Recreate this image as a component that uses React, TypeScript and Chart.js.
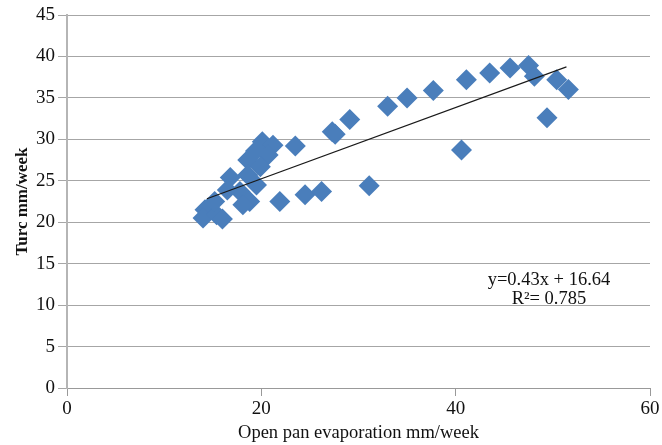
import React, { useEffect, useRef } from "react";
import { Chart, registerables } from "chart.js";

Chart.register(...registerables);

// Open pan evaporation (mm/week)
const evapX = [
  20.1, 21.2, 18.6, 20.7, 19.9, 16.8, 18.6, 19.5, 17.8, 16.5, 18.8, 18.1, 14.2, 14.0, 15.4, 16.0, 15.2, 19.4,
  23.5, 21.9, 24.5, 26.2, 31.1, 27.3, 27.6, 29.1, 33.0, 35.0, 37.7, 41.1, 43.5, 45.6, 47.5, 48.1, 50.4, 51.6,
  49.4, 40.6,
];
// Turc (mm/week)
const turcY = [
  29.7, 29.3, 27.5, 28.1, 26.7, 25.4, 25.7, 24.5, 23.7, 23.9, 22.5, 22.1, 21.5, 20.5, 20.9, 20.4, 22.5, 28.6,
  29.2, 22.5, 23.3, 23.7, 24.4, 30.9, 30.6, 32.4, 34.0, 35.0, 35.9, 37.2, 38.0, 38.6, 38.9, 37.6, 37.2, 36.0,
  32.6, 28.7,
];

const trendSlope = 0.43;
const trendIntercept = 16.64;
const trendXRange = [14.4, 51.4];
const equationLabel = "y=0.43x + 16.64";
const r2Label = "R\u00B2= 0.785";
const labelAnchor = [49.6, 11.8];

const xMin = 0, xMax = 60, xStep = 20;
const yMin = 0, yMax = 45, yStep = 5;
const xTitle = "Open pan evaporation mm/week";
const yTitle = "Turc mm/week";

const FONT = "'Liberation Serif', 'Times New Roman', serif";

const equationPlugin = {
  id: "equationText",
  afterDatasetsDraw(chart: any) {
    const { ctx, scales } = chart;
    const px = scales.x.getPixelForValue(labelAnchor[0]);
    const py = scales.y.getPixelForValue(labelAnchor[1]);
    ctx.save();
    ctx.font = `18.5px ${FONT}`;
    ctx.fillStyle = "#111";
    ctx.textAlign = "center";
    ctx.textBaseline = "middle";
    ctx.fillText(equationLabel, px, py - 10);
    ctx.fillText(r2Label, px, py + 9);
    ctx.restore();
  },
};

export default function App() {
  const ref = useRef<HTMLCanvasElement>(null);

  useEffect(() => {
    if (!ref.current) return;
    const points = evapX.map((x, i) => ({ x, y: turcY[i] }));
    const trend = trendXRange.map((x) => ({ x, y: trendSlope * x + trendIntercept }));
    const chart = new Chart(ref.current, {
      type: "scatter",
      data: {
        datasets: [
          {
            type: "line",
            data: trend,
            borderColor: "#1a1a1a",
            borderWidth: 1.2,
            pointRadius: 0,
            fill: false,
          } as any,
          {
            data: points,
            pointStyle: "rectRot",
            pointRadius: 10.5,
            pointBackgroundColor: "#4a7ebb",
            pointBorderWidth: 0,
            backgroundColor: "#4a7ebb",
            borderColor: "#4a7ebb",
          },
        ],
      },
      options: {
        responsive: false,
        animation: false,
        layout: { padding: { top: 15, right: 12, bottom: 0, left: 0 } },
        plugins: { legend: { display: false }, tooltip: { enabled: false } },
        scales: {
          x: {
            type: "linear",
            min: xMin,
            max: xMax,
            afterFit: (s: any) => {
              s.height = 57;
            },
            ticks: { stepSize: xStep, color: "#111", font: { family: FONT, size: 19 }, padding: 2, maxRotation: 0 },
            grid: { drawOnChartArea: false, drawTicks: true, tickLength: 8, color: "#999" },
            border: { display: true, color: "#999", width: 1 },
            title: {
              display: true,
              text: xTitle,
              color: "#111",
              font: { family: FONT, size: 18.5 },
              padding: { top: 0, bottom: 1 },
            },
          },
          y: {
            type: "linear",
            min: yMin,
            max: yMax,
            afterFit: (s: any) => {
              s.width = 67;
            },
            ticks: { stepSize: yStep, color: "#111", font: { family: FONT, size: 19 }, padding: 3 },
            grid: { color: "#a6a6a6", lineWidth: 1, drawTicks: true, tickLength: 9 },
            border: { display: true, color: "#b5b5b5", width: 2 },
            title: {
              display: true,
              text: yTitle,
              color: "#111",
              font: { family: FONT, size: 17, weight: "bold" },
              padding: { top: 12, bottom: 0 },
            },
          },
        },
      },
      plugins: [equationPlugin],
    });
    return () => chart.destroy();
  }, []);

  return (
    <div style={{ position: "absolute", left: 0, top: 0, width: 662, height: 445, background: "#fff" }}>
      <canvas ref={ref} width={662} height={445} />
    </div>
  );
}
